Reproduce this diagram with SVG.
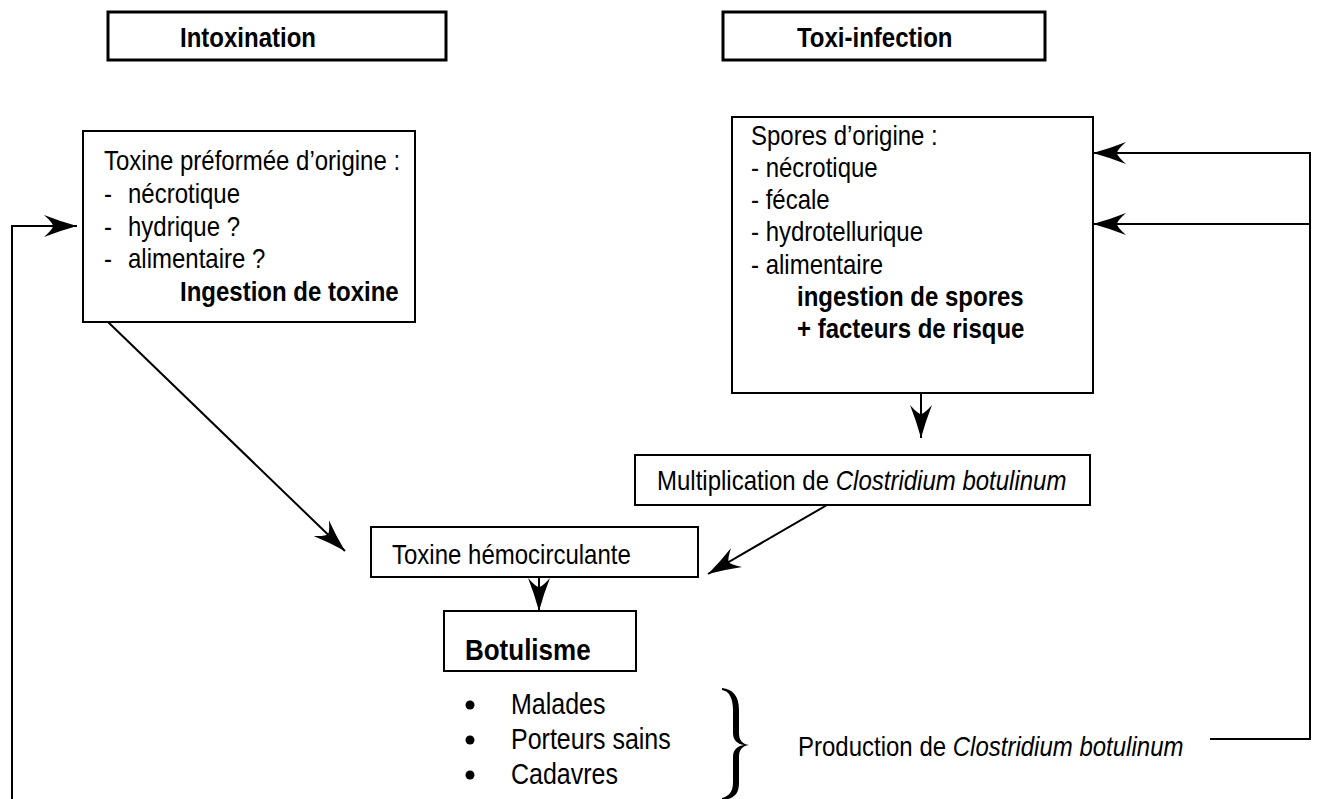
<svg xmlns="http://www.w3.org/2000/svg" width="1317" height="799" viewBox="0 0 1317 799">
<style>
  .t { font-family: "Liberation Sans", Arial, sans-serif; font-size: 24px; fill: #000; }
  .b { font-weight: bold; }
  .i { font-style: italic; }
  .box { fill: #fff; stroke: #000; stroke-width: 2; }
  .hbox { fill: #fff; stroke: #000; stroke-width: 3; }
  .ln { fill: none; stroke: #000; stroke-width: 2; }
  .ar { fill: none; stroke: #000; stroke-width: 2; marker-end: url(#arr); }
</style>
<defs>
  <marker id="arr" viewBox="-35 -13 37 26" refX="0" refY="0" markerWidth="37" markerHeight="26" markerUnits="userSpaceOnUse" orient="auto">
    <path d="M0,0 Q-18,-5 -33,-11 Q-24,-3 -24,0 Q-24,3 -33,11 Q-18,5 0,0 Z" fill="#000"/>
  </marker>
</defs>
<rect width="1317" height="799" fill="#fff"/>

<g id="intoxination">
  <rect class="hbox" x="108" y="12" width="338" height="48"/>
  <text class="t b" transform="translate(0,47) scale(1,1.15)" x="180" y="0">Intoxination</text>
</g>
<g id="toxi-infection">
  <rect class="hbox" x="723" y="12" width="322" height="48"/>
  <text class="t b" transform="translate(0,47) scale(1,1.15)" x="797" y="0">Toxi-infection</text>
</g>

<g id="toxine-preformee">
  <rect class="box" x="83" y="131" width="332" height="191"/>
  <text class="t" transform="translate(0,170) scale(1,1.15)" x="104" y="0">Toxine préformée d’origine :</text>
  <text class="t" transform="translate(0,203) scale(1,1.15)" y="0"><tspan x="104">-</tspan><tspan x="128">nécrotique</tspan></text>
  <text class="t" transform="translate(0,236) scale(1,1.15)" y="0"><tspan x="104">-</tspan><tspan x="128">hydrique ?</tspan></text>
  <text class="t" transform="translate(0,268) scale(1,1.15)" y="0"><tspan x="104">-</tspan><tspan x="128">alimentaire ?</tspan></text>
  <text class="t b" transform="translate(0,301) scale(1,1.15)" x="180" y="0">Ingestion de toxine</text>
</g>

<g id="spores">
  <rect class="box" x="732" y="117" width="361" height="276"/>
  <text class="t" transform="translate(0,145) scale(1,1.15)" x="751" y="0">Spores d’origine :</text>
  <text class="t" transform="translate(0,177) scale(1,1.15)" x="751" y="0">- nécrotique</text>
  <text class="t" transform="translate(0,209) scale(1,1.15)" x="751" y="0">- fécale</text>
  <text class="t" transform="translate(0,241) scale(1,1.15)" x="751" y="0">- hydrotellurique</text>
  <text class="t" transform="translate(0,274) scale(1,1.15)" x="751" y="0">- alimentaire</text>
  <text class="t b" transform="translate(0,306) scale(1,1.15)" x="797" y="0">ingestion de spores</text>
  <text class="t b" transform="translate(0,338) scale(1,1.15)" x="797" y="0">+ facteurs de risque</text>
</g>

<g id="multiplication">
  <rect class="box" x="635" y="455" width="455" height="50"/>
  <text class="t" transform="translate(0,490) scale(1,1.15)" x="657" y="0">Multiplication de <tspan class="i">Clostridium botulinum</tspan></text>
</g>

<g id="toxine-hemocirculante">
  <rect class="box" x="371" y="527" width="327" height="50"/>
  <text class="t" transform="translate(0,564) scale(1,1.15)" x="392" y="0">Toxine hémocirculante</text>
</g>

<g id="botulisme">
  <rect class="box" x="444" y="611" width="192" height="60"/>
  <text class="t b" style="font-size:26px" transform="translate(0,660) scale(1,1.15)" x="465" y="0">Botulisme</text>
</g>

<g id="sources">
  <circle cx="470" cy="705" r="4.5" fill="#000"/>
  <circle cx="470" cy="740" r="4.5" fill="#000"/>
  <circle cx="470" cy="775" r="4.5" fill="#000"/>
  <text class="t" style="font-size:25px" transform="translate(0,714) scale(1,1.15)" x="511" y="0">Malades</text>
  <text class="t" style="font-size:25px" transform="translate(0,749) scale(1,1.15)" x="511" y="0">Porteurs sains</text>
  <text class="t" style="font-size:25px" transform="translate(0,784) scale(1,1.15)" x="511" y="0">Cadavres</text>
  <path d="M722,688 C733,689 739,696 739,710 L739,733 C739,740 742,744 749,745 C742,746 739,750 739,757 L739,783 C739,795 733,799 722,800 L722,798 C729,796 733,792 733,782 L733,757 C733,750 737,746 744,745 C737,744 733,740 733,733 L733,710 C733,698 729,691 722,690 Z" fill="#000"/>
</g>

<g id="production">
  <text class="t" transform="translate(0,756) scale(1,1.15)" x="798" y="0">Production de <tspan class="i">Clostridium botulinum</tspan></text>
</g>

<g id="connectors">
  <line class="ar" x1="108" y1="322" x2="345" y2="551"/>
  <line class="ar" x1="921" y1="393" x2="921" y2="438"/>
  <line class="ar" x1="827" y1="505" x2="708" y2="574"/>
  <line class="ar" x1="539" y1="577" x2="539" y2="611"/>
  <polyline class="ar" points="12,799 12,226 77,226"/>
  <polyline class="ar" points="1210,739 1310,739 1310,153 1093,153"/>
  <line class="ar" x1="1310" y1="224" x2="1093" y2="224"/>
</g>
</svg>
